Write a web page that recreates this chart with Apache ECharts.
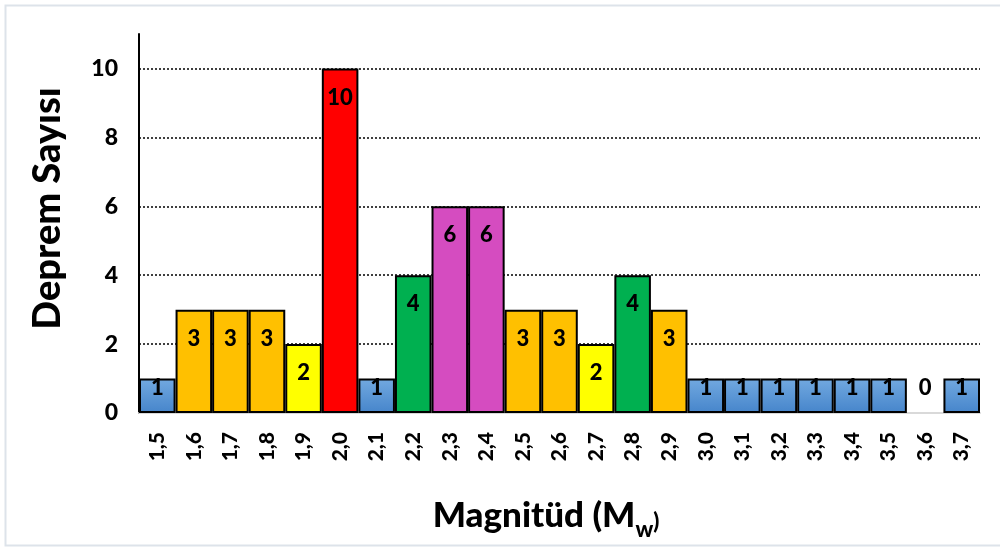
<!DOCTYPE html>
<html><head><meta charset="utf-8">
<script src="https://cdn.jsdelivr.net/npm/echarts@6/dist/echarts.min.js"></script>
<style>html,body{margin:0;padding:0;background:#fff}#c{width:1000px;height:550px}</style>
</head><body><div id="c"></div>
<script>
var categories = ['1,5','1,6','1,7','1,8','1,9','2,0','2,1','2,2','2,3','2,4','2,5','2,6','2,7','2,8','2,9','3,0','3,1','3,2','3,3','3,4','3,5','3,6','3,7'];
var counts = [1,3,3,3,2,10,1,4,6,6,3,3,2,4,3,1,1,1,1,1,1,0,1];
var yTicks = [0,2,4,6,8,10];

var FONT = 'Lato';
var W = 900;
var blueGrad = {type:'linear',x:0,y:0,x2:0,y2:1,colorStops:[{offset:0,color:'#72A9E0'},{offset:1,color:'#4685CB'}]};
var colorByValue = {0:'rgba(0,0,0,0)',1:blueGrad,2:'#FFFF00',3:'#FFC000',4:'#00B050',6:'#D54CC0',10:'#FF0000'};

var data = counts.map(function(v){
  var item = {value:v, itemStyle:{color:colorByValue[v]}};
  if (v === 0) { item.itemStyle.borderWidth = 0; item.label = {position:'top', distance:14}; }
  else if (v === 1) item.label = {position:'insideTop', distance:-2};
  return item;
});

var chart = echarts.init(document.getElementById('c'));
chart.setOption({
  animation:false,
  backgroundColor:'#fff',
  textStyle:{fontFamily:FONT},
  graphic:[{type:'rect',shape:{x:5.5,y:5.5,width:1100,height:540},style:{fill:'none',stroke:'#dde3ea',lineWidth:2},silent:true}],
  title:{
    text:'{a|Magnitüd (M}{b|w}{c|)}',
    left:541, top:488, textAlign:'center',
    textStyle:{rich:{
      a:{fontFamily:FONT,fontWeight:W,fontSize:35,color:'#000',verticalAlign:'bottom',lineHeight:40},
      b:{fontFamily:FONT,fontWeight:W,fontSize:22,color:'#000',verticalAlign:'bottom',lineHeight:40,padding:[0,0,-8,0]},
      c:{fontFamily:FONT,fontWeight:W,fontSize:22,color:'#000',verticalAlign:'bottom',lineHeight:40}
    }}
  },
  grid:{left:139,right:20,top:34,bottom:137,containLabel:false},
  xAxis:{
    type:'category', data:categories,
    axisLine:{show:true,lineStyle:{color:'#d9d9d9',width:2}},
    axisTick:{show:false},
    axisLabel:{rotate:90,color:'#000',fontFamily:FONT,fontWeight:W,fontSize:21,margin:19}
  },
  yAxis:{
    type:'value', min:0, max:11, interval:2,
    name:'Deprem Sayısı', nameLocation:'middle', nameGap:72, nameRotate:90,
    nameTextStyle:{fontFamily:FONT,fontWeight:W,fontSize:38,color:'#000',padding:[0,0,0,30]},
    axisLine:{show:true,lineStyle:{color:'#000',width:2}},
    axisTick:{show:false},
    axisLabel:{color:'#000',fontFamily:FONT,fontWeight:W,fontSize:23,margin:21,showMaxLabel:false,
      formatter:function(v){return yTicks.indexOf(v)>=0?String(v):'';}},
    splitLine:{show:true,showMaxLine:false,lineStyle:{color:'#000',type:[2,2],width:1.5}}
  },
  series:[{
    type:'bar', data:data, barCategoryGap:'0%',
    itemStyle:{borderColor:'#000',borderWidth:2},
    label:{show:true,position:'insideTop',distance:18,color:'#000',fontFamily:FONT,fontWeight:W,fontSize:22}
  }]
});
</script></body></html>
